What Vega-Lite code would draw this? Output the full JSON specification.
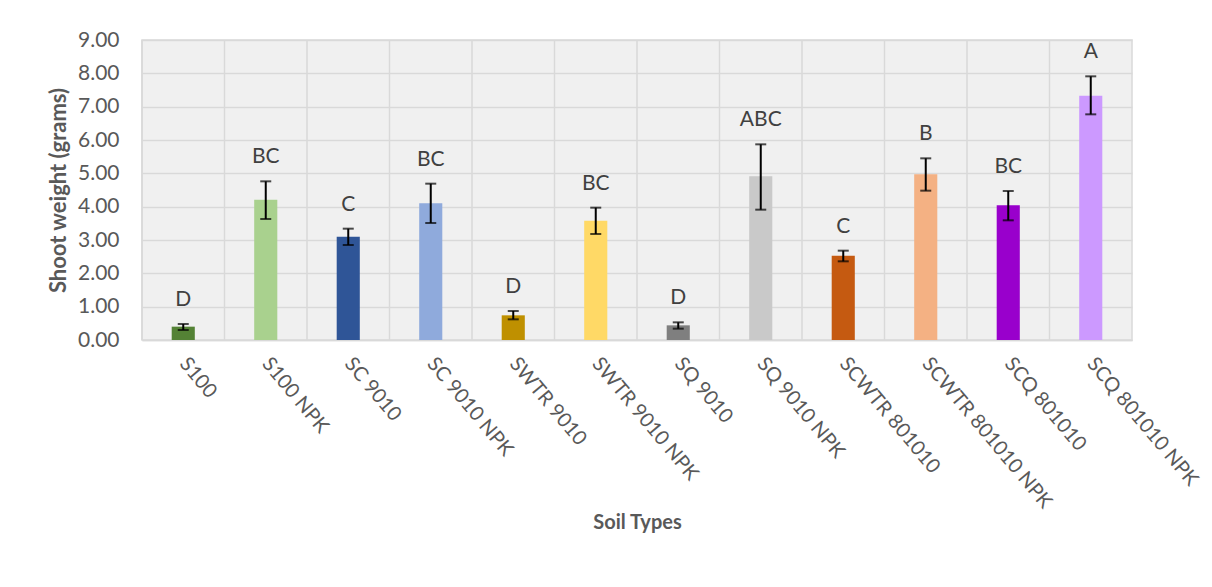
{
  "$schema": "https://vega.github.io/schema/vega-lite/v6.json",
  "width": 990,
  "height": 300,
  "autosize": {"type": "none"},
  "padding": {"left": 142, "top": 40, "right": 80, "bottom": 247},
  "background": "white",
  "config": {
    "font": "Lato",
    "view": {"stroke": "#d9d9d9", "strokeWidth": 1.5, "fill": "#f0f0f0"}
  },
  "data": {
    "values": [
      {"soil": "S100", "mean": 0.40, "lo": 0.30, "hi": 0.48, "group": "D"},
      {"soil": "S100 NPK", "mean": 4.21, "lo": 3.63, "hi": 4.76, "group": "BC"},
      {"soil": "SC 9010", "mean": 3.10, "lo": 2.85, "hi": 3.34, "group": "C"},
      {"soil": "SC 9010 NPK", "mean": 4.10, "lo": 3.51, "hi": 4.69, "group": "BC"},
      {"soil": "SWTR 9010", "mean": 0.74, "lo": 0.62, "hi": 0.87, "group": "D"},
      {"soil": "SWTR 9010 NPK", "mean": 3.58, "lo": 3.18, "hi": 3.97, "group": "BC"},
      {"soil": "SQ 9010", "mean": 0.44, "lo": 0.34, "hi": 0.53, "group": "D"},
      {"soil": "SQ 9010 NPK", "mean": 4.91, "lo": 3.91, "hi": 5.87, "group": "ABC"},
      {"soil": "SCWTR 801010", "mean": 2.53, "lo": 2.36, "hi": 2.68, "group": "C"},
      {"soil": "SCWTR 801010 NPK", "mean": 4.97, "lo": 4.48, "hi": 5.45, "group": "B"},
      {"soil": "SCQ 801010", "mean": 4.04, "lo": 3.59, "hi": 4.47, "group": "BC"},
      {"soil": "SCQ 801010 NPK", "mean": 7.33, "lo": 6.77, "hi": 7.91, "group": "A"}
    ]
  },
  "layer": [
    {
      "mark": {"type": "rule", "color": "#d9d9d9", "strokeWidth": 1.5},
      "encoding": {
        "x": {"field": "soil", "type": "nominal", "sort": null, "bandPosition": 0,
              "scale": {"paddingInner": 0, "paddingOuter": 0}}
      }
    },
    {
      "mark": {"type": "bar", "width": {"band": 0.28}},
      "encoding": {
        "x": {
          "field": "soil", "type": "nominal", "sort": null,
          "scale": {"paddingInner": 0, "paddingOuter": 0},
          "axis": {
            "title": "Soil Types",
            "titleFontSize": 20, "titleFontWeight": "bold", "titleColor": "#595959",
            "titleY": 172, "titleBaseline": "top",
            "labelAngle": 50, "labelAlign": "left", "labelBaseline": "middle",
            "labelFontSize": 20, "labelColor": "#595959", "labelPadding": 20,
            "labelLimit": 0, "labelOverlap": false,
            "ticks": false, "grid": false,
            "domain": true, "domainColor": "#d9d9d9", "domainWidth": 1.5
          }
        },
        "y": {
          "field": "mean", "type": "quantitative",
          "scale": {"domain": [0, 9], "nice": false},
          "axis": {
            "title": "Shoot weight (grams)",
            "titleFontSize": 22, "titleFontWeight": "bold", "titleColor": "#595959", "titlePadding": 7,
            "values": [0, 1, 2, 3, 4, 5, 6, 7, 8, 9], "format": ".2f",
            "labelFontSize": 21, "labelColor": "#595959", "labelPadding": 23, "labelOverlap": false,
            "ticks": false, "domain": false,
            "grid": true, "gridColor": "#d9d9d9", "gridWidth": 1.5
          }
        },
        "color": {
          "field": "soil", "type": "nominal", "sort": null, "legend": null,
          "scale": {
            "domain": ["S100", "S100 NPK", "SC 9010", "SC 9010 NPK", "SWTR 9010", "SWTR 9010 NPK", "SQ 9010", "SQ 9010 NPK", "SCWTR 801010", "SCWTR 801010 NPK", "SCQ 801010", "SCQ 801010 NPK"],
            "range": ["#548235", "#a9d18e", "#2f5597", "#8faadc", "#bf9000", "#ffd966", "#7f7f7f", "#c9c9c9", "#c55a11", "#f4b183", "#9900cc", "#cc99ff"]
          }
        }
      }
    },
    {
      "mark": {"type": "rule", "color": "black", "strokeWidth": 2},
      "encoding": {
        "x": {"field": "soil", "type": "nominal", "sort": null},
        "y": {
          "field": "lo", "type": "quantitative",
          "axis": {
            "title": "Shoot weight (grams)",
            "titleFontSize": 22, "titleFontWeight": "bold", "titleColor": "#595959", "titlePadding": 7,
            "values": [0, 1, 2, 3, 4, 5, 6, 7, 8, 9], "format": ".2f",
            "labelFontSize": 21, "labelColor": "#595959", "labelPadding": 23, "labelOverlap": false,
            "ticks": false, "domain": false,
            "grid": true, "gridColor": "#d9d9d9", "gridWidth": 1.5
          }
        },
        "y2": {"field": "hi"}
      }
    },
    {
      "mark": {"type": "tick", "color": "black", "thickness": 2, "size": 11, "orient": "horizontal"},
      "encoding": {
        "x": {"field": "soil", "type": "nominal", "sort": null},
        "y": {
          "field": "lo", "type": "quantitative",
          "axis": {
            "title": "Shoot weight (grams)",
            "titleFontSize": 22, "titleFontWeight": "bold", "titleColor": "#595959", "titlePadding": 7,
            "values": [0, 1, 2, 3, 4, 5, 6, 7, 8, 9], "format": ".2f",
            "labelFontSize": 21, "labelColor": "#595959", "labelPadding": 23, "labelOverlap": false,
            "ticks": false, "domain": false,
            "grid": true, "gridColor": "#d9d9d9", "gridWidth": 1.5
          }
        }
      }
    },
    {
      "mark": {"type": "tick", "color": "black", "thickness": 2, "size": 11, "orient": "horizontal"},
      "encoding": {
        "x": {"field": "soil", "type": "nominal", "sort": null},
        "y": {
          "field": "hi", "type": "quantitative",
          "axis": {
            "title": "Shoot weight (grams)",
            "titleFontSize": 22, "titleFontWeight": "bold", "titleColor": "#595959", "titlePadding": 7,
            "values": [0, 1, 2, 3, 4, 5, 6, 7, 8, 9], "format": ".2f",
            "labelFontSize": 21, "labelColor": "#595959", "labelPadding": 23, "labelOverlap": false,
            "ticks": false, "domain": false,
            "grid": true, "gridColor": "#d9d9d9", "gridWidth": 1.5
          }
        }
      }
    },
    {
      "mark": {"type": "text", "fontSize": 21, "color": "#404040", "baseline": "middle", "dy": -24},
      "encoding": {
        "x": {"field": "soil", "type": "nominal", "sort": null},
        "y": {
          "field": "hi", "type": "quantitative",
          "axis": {
            "title": "Shoot weight (grams)",
            "titleFontSize": 22, "titleFontWeight": "bold", "titleColor": "#595959", "titlePadding": 7,
            "values": [0, 1, 2, 3, 4, 5, 6, 7, 8, 9], "format": ".2f",
            "labelFontSize": 21, "labelColor": "#595959", "labelPadding": 23, "labelOverlap": false,
            "ticks": false, "domain": false,
            "grid": true, "gridColor": "#d9d9d9", "gridWidth": 1.5
          }
        },
        "text": {"field": "group"}
      }
    }
  ]
}
